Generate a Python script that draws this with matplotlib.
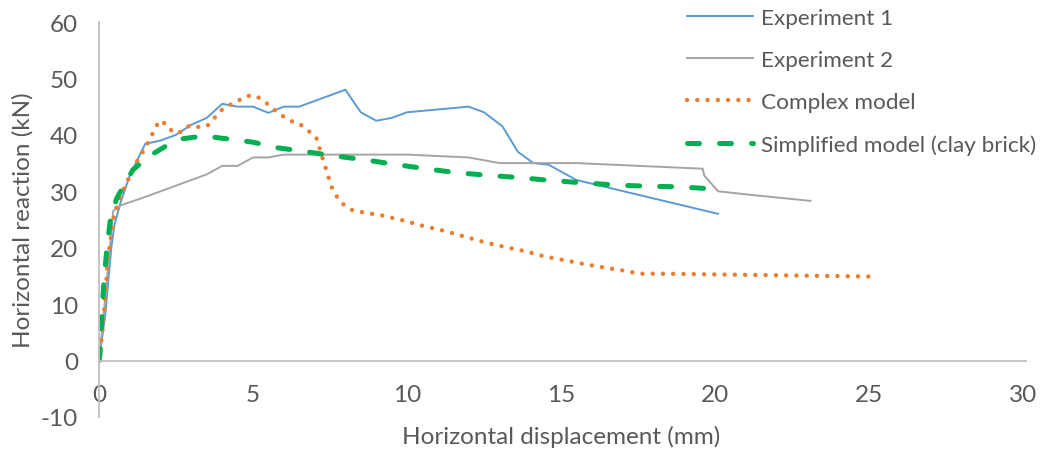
import matplotlib
matplotlib.use("Agg")
import matplotlib.pyplot as plt

# displacement (mm) / reaction (kN) for each curve
exp1_x = [0, 0.2, 0.4, 0.5, 0.7, 1.0, 1.5, 2.0, 2.5, 3.0, 3.5, 4.0, 4.5, 5.0, 5.5, 6.0, 6.5,
          8.0, 8.5, 9.0, 9.5, 10.0, 12.0, 12.5, 13.1, 13.6, 14.1, 14.6, 15.5, 20.1]
exp1_y = [0, 8, 20, 24, 28, 32.8, 38.4, 39, 40, 41.8, 43, 45.5, 45, 45, 43.9, 45, 45,
          48, 44, 42.5, 43, 44, 45, 44, 41.5, 37, 35, 34.7, 32, 26]

exp2_x = [0, 0.2, 0.46, 0.7, 1.5, 2.5, 3.5, 4.0, 4.5, 5.0, 5.5, 6.0, 10.0, 12.0, 13.0,
          15.5, 19.6, 19.65, 20.1, 21.1, 23.1]
exp2_y = [0, 11, 26.5, 27.5, 29, 31, 33, 34.5, 34.5, 36, 36, 36.5, 36.5, 36, 35,
          35, 34, 32.8, 30, 29.4, 28.3]

complex_x = [0, 0.12, 0.2, 0.25, 0.3, 0.4, 0.5, 0.6, 0.85, 1.0, 1.15, 1.3, 1.5, 1.65, 1.8,
             1.95, 2.2, 2.4, 2.65, 2.95, 3.2, 3.5, 3.75, 3.95, 4.25, 4.5, 4.8, 5.1, 5.4,
             5.65, 5.95, 6.2, 6.5, 6.8, 7.05, 7.15, 7.25, 7.35, 7.45, 7.55, 7.7, 7.95,
             8.2, 8.55, 9.2, 9.9, 10.5, 11.2, 11.85, 12.5, 13.2, 13.9, 14.5, 15.2, 15.85,
             16.5, 17.2, 17.5, 18.2, 20.9, 25.0]
complex_y = [0, 5.7, 11, 15, 18.6, 22.2, 26, 27.6, 31, 32.7, 34.4, 36, 37.6, 39.3, 40.8,
             42.5, 41.9, 40.4, 40.5, 41.7, 41.4, 41.5, 43, 44.3, 45.3, 46, 46.9, 46.9, 45.8,
             44.6, 43.4, 42.5, 42, 40.7, 39.6, 37.8, 36, 34.3, 32.5, 30.8, 29.2, 27.6,
             26.7, 26.3, 25.7, 24.8, 23.9, 23.0, 22.0, 21.0, 20.1, 19.3, 18.4, 17.7, 17.0,
             16.4, 15.8, 15.4, 15.4, 15.2, 14.9]

simple_x = [0, 0.03, 0.1, 0.16, 0.25, 0.36, 0.57, 0.9, 1.1, 1.65, 2.2, 2.7, 3.4, 4.15, 5.0,
            5.8, 6.5, 7.6, 8.6, 9.7, 10.6, 11.6, 12.7, 13.7, 14.7, 15.7, 16.8, 17.8, 18.8, 20.0]
simple_y = [0, 1, 8.9, 14, 19.5, 24.6, 28.7, 31.9, 33.8, 36.3, 38.1, 39.3, 39.8, 39.3, 38.7,
            37.7, 37.2, 36.3, 35.6, 34.7, 34, 33.3, 32.8, 32.4, 31.9, 31.5, 31.1, 30.9, 30.8, 30.4]

labels = ["Experiment 1", "Experiment 2", "Complex model", "Simplified model (clay brick)"]
x_ticks = [0, 5, 10, 15, 20, 25, 30]
y_ticks = [-10, 0, 10, 20, 30, 40, 50, 60]

txt = "#595959"
axis_col = "#BFBFBF"
fs = 17.5
leg_fs = 16.2
plt.rcParams["font.family"] = ["Lato", "DejaVu Sans"]
plt.rcParams["axes.unicode_minus"] = False

fig = plt.figure(figsize=(10.42, 4.52), dpi=100)
ax = fig.add_axes([99 / 1042, 1 - 418 / 452, 924 / 1042, 395 / 452])

ax.plot(exp1_x, exp1_y, color="#5B9BD5", lw=1.4, label=labels[0])
ax.plot(exp2_x, exp2_y, color="#A5A5A5", lw=1.4, label=labels[1])
ax.plot(complex_x, complex_y, color="#ED7D31", lw=3.2, linestyle=(0, (0.01, 2.3)),
        dash_capstyle="round", label=labels[2])
ax.plot(simple_x, simple_y, color="#00B050", lw=3.6, linestyle=(0, (2.4, 4.0)),
        dash_capstyle="round", label=labels[3])

ax.set_xlim(0, 30)
ax.set_ylim(-10, 60)
ax.set_xticks(x_ticks)
ax.set_yticks(y_ticks)

for s in ["top", "right"]:
    ax.spines[s].set_visible(False)
ax.spines["bottom"].set_position(("data", 0))
ax.spines["left"].set_position(("data", 0))
for s in ["bottom", "left"]:
    ax.spines[s].set_color(axis_col)
    ax.spines[s].set_linewidth(1.3)
ax.spines["bottom"].set_bounds(0, 30.1)

ax.tick_params(axis="both", length=0, labelsize=fs, labelcolor=txt)
ax.tick_params(axis="x", pad=17)
ax.tick_params(axis="y", pad=15)

ax.set_xlabel("Horizontal displacement (mm)", fontsize=fs, color=txt)
ax.set_ylabel("Horizontal reaction (kN)", fontsize=fs, color=txt)
ax.xaxis.set_label_coords(0.5, -0.02)
ax.yaxis.set_label_coords(-0.071, 0.5)

ax.legend(loc="upper left", bbox_to_anchor=(687 / 1042, 1 - 9 / 452),
          bbox_transform=fig.transFigure, frameon=False, fontsize=leg_fs,
          labelcolor=txt, handlelength=2.95, handletextpad=0.35,
          labelspacing=0.98, borderpad=0, borderaxespad=0)

fig.savefig("out.png", dpi=100)
